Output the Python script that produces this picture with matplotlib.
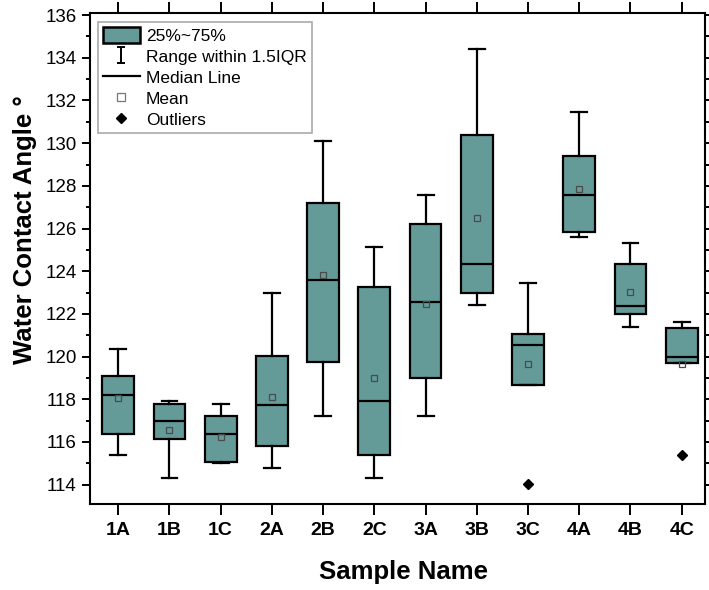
import matplotlib
matplotlib.use('Agg')
import matplotlib.pyplot as plt
import matplotlib.ticker as tck
from matplotlib.lines import Line2D
from matplotlib.patches import Patch
from matplotlib.path import Path

plt.rcParams['font.family'] = ['Liberation Sans', 'DejaVu Sans']

samples = ['1A', '1B', '1C', '2A', '2B', '2C', '3A', '3B', '3C', '4A', '4B', '4C']
whisk_lo = [115.40, 114.29, 115.00, 114.78, 117.23, 114.29, 117.23, 122.41, 118.68, 125.59, 121.41, 119.69]
q1 = [116.38, 116.14, 115.07, 115.79, 119.77, 115.40, 118.99, 123.00, 118.68, 125.86, 122.00, 119.69]
medians = [118.20, 116.96, 116.38, 117.73, 123.58, 117.90, 122.58, 124.34, 120.55, 127.57, 122.39, 120.00]
q3 = [119.10, 117.80, 117.23, 120.03, 127.18, 123.28, 126.20, 130.38, 121.05, 129.41, 124.34, 121.33]
whisk_hi = [120.35, 117.90, 117.79, 123.00, 130.10, 125.12, 127.57, 134.39, 123.47, 131.44, 125.31, 121.61]
means = [118.07, 116.54, 116.23, 118.13, 123.80, 119.00, 122.47, 126.48, 119.66, 127.85, 123.05, 119.66]
outliers = [[], [], [], [], [], [], [], [], [114.03], [], [], [115.37]]

BOX_COLOR = '#649b99'

stats = []
for i, name in enumerate(samples):
    stats.append({
        'label': name,
        'whislo': whisk_lo[i],
        'q1': q1[i],
        'med': medians[i],
        'q3': q3[i],
        'whishi': whisk_hi[i],
        'mean': means[i],
        'fliers': outliers[i],
    })

fig = plt.figure(figsize=(7.09, 5.9), dpi=100)
ax = fig.add_axes([0.127, 0.146, 0.867, 0.832])

ax.bxp(
    stats,
    positions=range(1, len(samples) + 1),
    widths=0.62,
    capwidths=0.31,
    patch_artist=True,
    showmeans=True,
    boxprops=dict(facecolor=BOX_COLOR, edgecolor='black', linewidth=1.6),
    medianprops=dict(color='black', linewidth=1.6),
    whiskerprops=dict(color='black', linewidth=1.6),
    capprops=dict(color='black', linewidth=1.6),
    meanprops=dict(marker='s', markersize=5, markerfacecolor='none',
                   markeredgecolor='#4a4a4a', markeredgewidth=0.9),
    flierprops=dict(marker='D', markersize=5, markerfacecolor='black',
                    markeredgecolor='black'),
)

ax.set_xlim(0.45, 12.45)
ax.set_ylim(113.1, 136.1)
ax.yaxis.set_major_locator(tck.MultipleLocator(2))
ax.yaxis.set_minor_locator(tck.MultipleLocator(1))
ax.tick_params(axis='both', which='both', direction='out', width=1.4)
ax.tick_params(axis='y', which='major', length=6, labelsize=13.5, right=True)
ax.tick_params(axis='y', which='minor', length=3, right=True)
ax.tick_params(axis='x', which='major', length=8, labelsize=14, top=True, pad=5)
for lab in ax.get_xticklabels():
    lab.set_fontweight('bold')
for sp in ax.spines.values():
    sp.set_linewidth(1.5)

ax.set_xlabel('Sample Name', fontsize=18.5, fontweight='bold')
ax.set_ylabel('Water Contact Angle °', fontsize=18.5, fontweight='bold')
ax.xaxis.set_label_coords(0.51, -0.114)
ax.yaxis.set_label_coords(-0.086, 0.558)

# legend handles
ibar = Path([(-0.5, 1), (0.5, 1), (0, 1), (0, -1), (-0.5, -1), (0.5, -1)],
            [Path.MOVETO, Path.LINETO, Path.MOVETO, Path.LINETO, Path.MOVETO, Path.LINETO])
handles = [
    Patch(facecolor=BOX_COLOR, edgecolor='black', linewidth=1.8, label='25%~75%'),
    Line2D([], [], linestyle='none', marker=ibar, markersize=12, color='black',
           markeredgewidth=1.4, label='Range within 1.5IQR'),
    Line2D([], [], color='black', linewidth=1.6, label='Median Line'),
    Line2D([], [], linestyle='none', marker='s', markersize=6, markerfacecolor='white',
           markeredgecolor='#777777', markeredgewidth=0.9, label='Mean'),
    Line2D([], [], linestyle='none', marker='D', markersize=5, color='black', label='Outliers'),
]
leg = ax.legend(
    handles=handles,
    loc='upper left',
    bbox_to_anchor=(0.013, 0.982),
    borderaxespad=0,
    fontsize=12.5,
    fancybox=False,
    edgecolor='#aaaaaa',
    framealpha=1,
    handlelength=2.1,
    handleheight=1.0,
    handletextpad=0.35,
    labelspacing=0.25,
    borderpad=0.3,
)
leg.get_frame().set_linewidth(1.2)

fig.savefig('out.png', dpi=100)
